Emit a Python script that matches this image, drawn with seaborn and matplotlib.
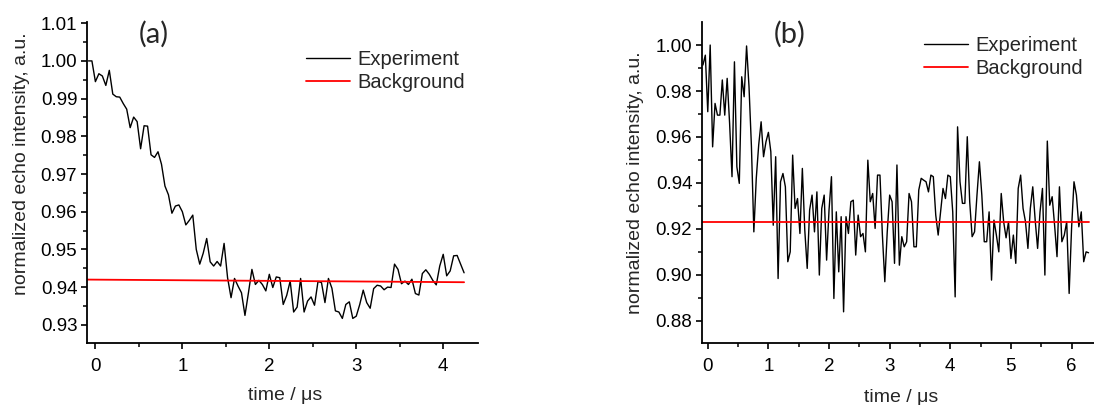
import numpy as np
import pandas as pd
import matplotlib
matplotlib.use("Agg")
import matplotlib.pyplot as plt
from matplotlib.ticker import MultipleLocator, FormatStrFormatter
import seaborn as sns

# sampling of the echo decay traces (microseconds)
T0_A = -0.08
T0_B = -0.08
DT = 0.04

# (a) normalized echo intensity
echo_a = [
    1.0000, 1.0000, 0.9945, 0.9966, 0.9960, 0.9935, 0.9975, 0.9912, 0.9905, 0.9904,
    0.9887, 0.9872, 0.9823, 0.9851, 0.9839, 0.9767, 0.9828, 0.9827, 0.9751, 0.9744,
    0.9759, 0.9726, 0.9668, 0.9645, 0.9596, 0.9615, 0.9618, 0.9600, 0.9565, 0.9577,
    0.9591, 0.9500, 0.9461, 0.9490, 0.9529, 0.9467, 0.9456, 0.9468, 0.9456, 0.9516,
    0.9425, 0.9372, 0.9423, 0.9403, 0.9385, 0.9325, 0.9385, 0.9447, 0.9407, 0.9418,
    0.9407, 0.9390, 0.9434, 0.9399, 0.9427,
    0.9425, 0.9354, 0.9378, 0.9416, 0.9334, 0.9347, 0.9423, 0.9334, 0.9363, 0.9374,
    0.9352, 0.9415, 0.9412, 0.9359, 0.9423, 0.9397, 0.9337, 0.9334, 0.9317, 0.9354,
    0.9361, 0.9317, 0.9323, 0.9354, 0.9392, 0.9359, 0.9344, 0.9396, 0.9405, 0.9403,
    0.9393, 0.9400, 0.9399, 0.9461, 0.9447, 0.9409, 0.9416, 0.9407, 0.9421, 0.9383,
    0.9379, 0.9436, 0.9446, 0.9434, 0.9418, 0.9406, 0.9456, 0.9487, 0.9430, 0.9443,
    0.9483, 0.9484, 0.9461, 0.9438,
]

# (b) normalized echo intensity
echo_b = [
    0.9913, 0.9956, 0.9710, 1.0000, 0.9557, 0.9746, 0.9695, 0.9695, 0.9848, 0.9695,
    0.9855, 0.9660, 0.9427, 0.9927, 0.9470, 0.9398, 0.9862, 0.9775, 0.9996, 0.9820,
    0.9560, 0.9187, 0.9420, 0.9565, 0.9666, 0.9514, 0.9579, 0.9620, 0.9536, 0.9216,
    0.9514, 0.8984, 0.9405, 0.9441, 0.9383, 0.9057, 0.9100, 0.9521, 0.9289, 0.9332,
    0.9180, 0.9463, 0.9195, 0.9028, 0.9282, 0.9347, 0.9187, 0.9361, 0.8999, 0.9289,
    0.9347, 0.9064, 0.9282, 0.9427, 0.8897, 0.9274, 0.9013, 0.9253, 0.8839, 0.9253,
    0.9180, 0.9318, 0.9325, 0.9086, 0.9260, 0.9166, 0.9180, 0.9100, 0.9499, 0.9318,
    0.9354, 0.9202, 0.9434, 0.9434, 0.9173, 0.8970, 0.9187, 0.9347, 0.9318, 0.9050,
    0.9478, 0.9042, 0.9166, 0.9122, 0.9144, 0.9354, 0.9318, 0.9122, 0.9122, 0.9369,
    0.9420, 0.9412, 0.9405, 0.9361, 0.9434, 0.9427, 0.9260, 0.9173, 0.9274, 0.9376,
    0.9332, 0.9434, 0.9427, 0.9274, 0.8904, 0.9644, 0.9405, 0.9311, 0.9311, 0.9601,
    0.9318, 0.9166, 0.9187, 0.9347, 0.9492, 0.9347, 0.9144, 0.9144, 0.9274, 0.8977,
    0.9238, 0.9173, 0.9100, 0.9354, 0.9231, 0.9161, 0.9231, 0.9071, 0.9173, 0.9050,
    0.9376, 0.9434, 0.9289, 0.9231, 0.9115, 0.9289, 0.9383, 0.9238, 0.9115, 0.9274,
    0.9376, 0.8999, 0.9582, 0.9303, 0.9340, 0.9216, 0.9079, 0.9383, 0.9144, 0.9173,
    0.9231, 0.8919, 0.9202, 0.9405, 0.9347, 0.9209, 0.9274, 0.9057, 0.9100, 0.9096,
]

# fitted background levels (end points of the straight background line)
bg_a_t = [-0.10, 4.24]
bg_a = [0.9420, 0.9413]
bg_b_t = [-0.10, 6.28]
bg_b = [0.9230, 0.9230]

panel_labels = ["(a)", "(b)"]
series_labels = ["Experiment", "Background"]
x_label = "time / \u03bcs"
y_label = "normalized echo intensity, a.u."

sns.set_style("ticks")
plt.rcParams["font.family"] = ["Liberation Sans", "DejaVu Sans"]
plt.rcParams["axes.linewidth"] = 1.3

W, H = 1094, 405
fig = plt.figure(figsize=(W / 100, H / 100), dpi=100)


def axes_px(left, top, right, bottom):
    return fig.add_axes([left / W, 1 - bottom / H, (right - left) / W, (bottom - top) / H])


ax_a = axes_px(86.7, 21.7, 478, 343.3)
ax_b = axes_px(701.7, 22.3, 1094, 343.3)

t_a = T0_A + DT * np.arange(len(echo_a))
t_b = T0_B + DT * np.arange(len(echo_b))
df_a = pd.DataFrame({"t": t_a, "echo": echo_a})
df_b = pd.DataFrame({"t": t_b, "echo": echo_b})

for ax, df, bt, bv in [(ax_a, df_a, bg_a_t, bg_a), (ax_b, df_b, bg_b_t, bg_b)]:
    sns.lineplot(data=df, x="t", y="echo", ax=ax, color="black", lw=1.0,
                 estimator=None, sort=False, label=series_labels[0])
    sns.lineplot(x=bt, y=bv, ax=ax, color="#ff0000", lw=1.3,
                 estimator=None, sort=False, label=series_labels[1])
    sns.despine(ax=ax)
    ax.set_xlabel("")
    ax.set_ylabel("")
    ax.xaxis.set_major_locator(MultipleLocator(1))
    ax.xaxis.set_minor_locator(MultipleLocator(0.5))
    ax.tick_params(axis="both", which="major", direction="out", length=4.3, width=1.2,
                   labelsize=13.5, color="black", labelcolor="black")
    ax.tick_params(axis="both", which="minor", direction="out", length=2.6, width=1.1,
                   color="black")
    ax.tick_params(axis="x", which="major", pad=6.0)
    ax.tick_params(axis="y", which="major", pad=2.5)
    ax.yaxis.set_major_formatter(FormatStrFormatter("%.2f"))
    for s in ("left", "bottom"):
        ax.spines[s].set_color("black")

ax_a.set_xlim(-0.1, 4.4)
ax_a.set_ylim(0.9251, 1.0104)
ax_a.yaxis.set_major_locator(MultipleLocator(0.01))
ax_a.yaxis.set_minor_locator(MultipleLocator(0.005))

ax_b.set_xlim(-0.1, 6.37)
ax_b.set_ylim(0.8702, 1.0099)
ax_b.yaxis.set_major_locator(MultipleLocator(0.02))
ax_b.yaxis.set_minor_locator(MultipleLocator(0.01))

legend_anchor = {ax_a: (0.5604, 0.912), ax_b: (0.5667, 0.958)}
for ax in (ax_a, ax_b):
    ax.legend(loc="upper left", bbox_to_anchor=legend_anchor[ax], frameon=False,
              fontsize=14.5, handlelength=2.2, handletextpad=0.35, borderpad=0,
              borderaxespad=0, labelspacing=0.22)


def text_px(x, y, s, **kw):
    fig.text(x / W, 1 - y / H, s, ha="center", va="center", **kw)


text_px(21.7, 164, y_label, rotation=90, fontsize=14)
text_px(636, 183, y_label, rotation=90, fontsize=14)
text_px(285, 396, x_label, fontsize=14)
text_px(901, 397, x_label, fontsize=14)
text_px(154, 34, panel_labels[0], fontsize=21, family=["Lato", "DejaVu Sans"])
text_px(790, 34.5, panel_labels[1], fontsize=21, family=["Lato", "DejaVu Sans"])

fig.savefig("out.png", dpi=100)
